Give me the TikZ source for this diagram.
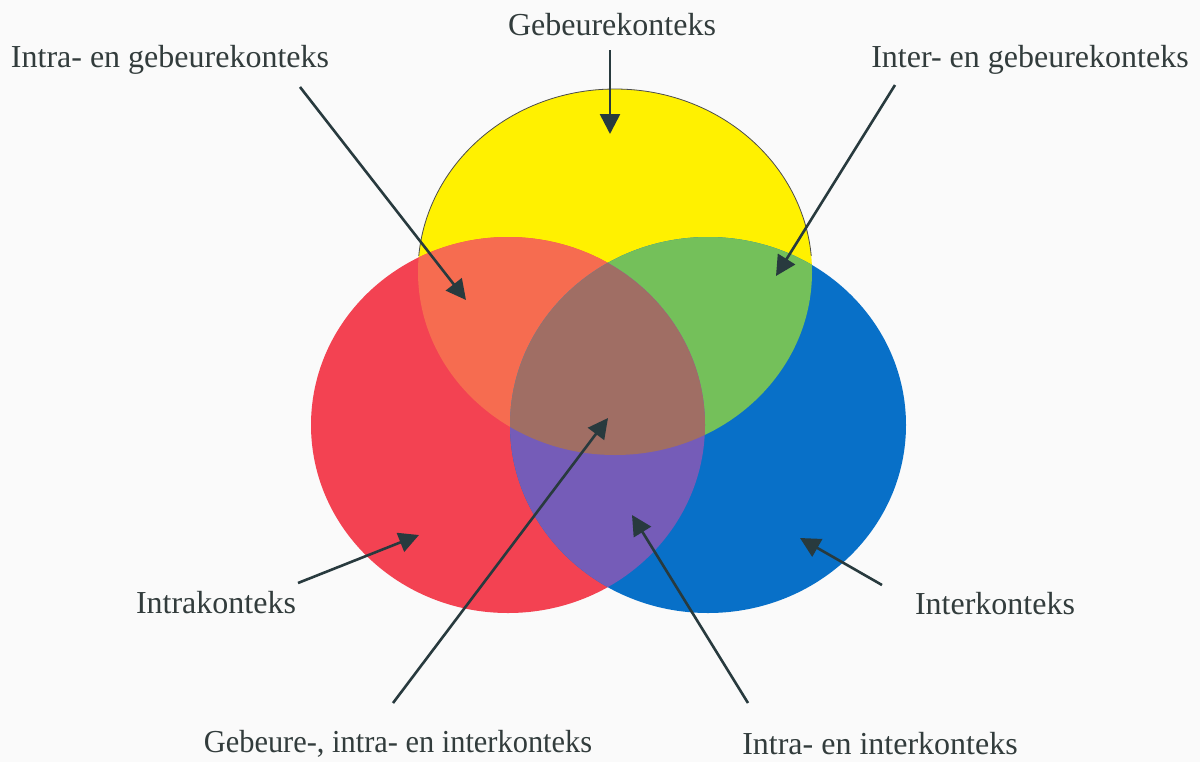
\documentclass[tikz,border=0pt]{standalone}
\usepackage{fontspec}
\setmainfont{Liberation Serif}
\usetikzlibrary{arrows.meta}
\definecolor{bg}{RGB}{250,250,250}
\definecolor{cyel}{RGB}{255,241,0}
\definecolor{cred}{RGB}{243,66,82}
\definecolor{cblue}{RGB}{8,112,200}
\definecolor{corange}{RGB}{246,108,80}
\definecolor{cgreen}{RGB}{116,192,90}
\definecolor{cpurple}{RGB}{117,92,184}
\definecolor{cbrown}{RGB}{160,110,100}
\definecolor{carrow}{RGB}{40,58,62}
\definecolor{ctext}{RGB}{50,60,60}
\tikzset{
  lbl/.style={text=ctext, font=\fontsize{16}{19}\selectfont, inner sep=0pt},
  pointer/.style={draw=carrow, line width=1.3pt, -{Triangle[length=10pt,width=10pt]}},
}
\begin{document}
\begin{tikzpicture}[x=0.5pt,y=-0.5pt]
\fill[bg] (0,0) rectangle (1200,762);
\useasboundingbox (0,0) rectangle (1200,762);
% shapes
\def\yel{(615,272) ellipse [x radius=98.5pt, y radius=91.5pt]}
\def\red{(508,425) ellipse [x radius=98.5pt, y radius=94pt]}
\def\blu{(708,425) ellipse [x radius=99pt, y radius=94pt]}
\fill[cyel] \yel;
\fill[cred] \red;
\fill[cblue] \blu;
\begin{scope}
  \clip \red; \fill[corange] \yel;
\end{scope}
\begin{scope}
  \clip \blu; \fill[cgreen] \yel;
\end{scope}
\begin{scope}
  \clip \red; \fill[cpurple] \blu;
\end{scope}
\begin{scope}
  \clip \red; \clip \blu; \fill[cbrown] \yel;
\end{scope}
\begin{scope}
  \clip (0,0) rectangle (1200,255);
  \draw[gray!60!black, line width=0.4pt] \yel;
\end{scope}
% labels
\node[lbl] (geb) at (612,25) {Gebeurekonteks};
\node[lbl] (intrageb) at (170,60) {Intra- en gebeurekonteks};
\node[lbl] (intergeb) at (1030,60) {Inter- en gebeurekonteks};
\node[lbl] (intra) at (216,603) {Intrakonteks};
\node[lbl] (inter) at (995,604) {Interkonteks};
\node[lbl, xscale=0.95, transform shape] (all) at (398,744) {Gebeure-, intra- en interkonteks};
\node[lbl] (intrainter) at (880,744) {Intra- en interkonteks};
% arrow anchors
\coordinate (s1) at (610,50);   \coordinate (t1) at (610,134);
\coordinate (s2) at (300,87);   \coordinate (t2) at (466,300);
\coordinate (s3) at (895,85);   \coordinate (t3) at (776,276);
\coordinate (s4) at (298,583);  \coordinate (t4) at (419,535);
\coordinate (s5) at (882,585);  \coordinate (t5) at (800,538);
\coordinate (s6) at (393,703);  \coordinate (t6) at (608,418);
\coordinate (s7) at (748,703);  \coordinate (t7) at (632,515);
\draw[pointer] (s1) -- (t1);
\draw[pointer] (s2) -- (t2);
\draw[pointer] (s3) -- (t3);
\draw[pointer] (s4) -- (t4);
\draw[pointer] (s5) -- (t5);
\draw[pointer] (s6) -- (t6);
\draw[pointer] (s7) -- (t7);
\end{tikzpicture}
\end{document}
